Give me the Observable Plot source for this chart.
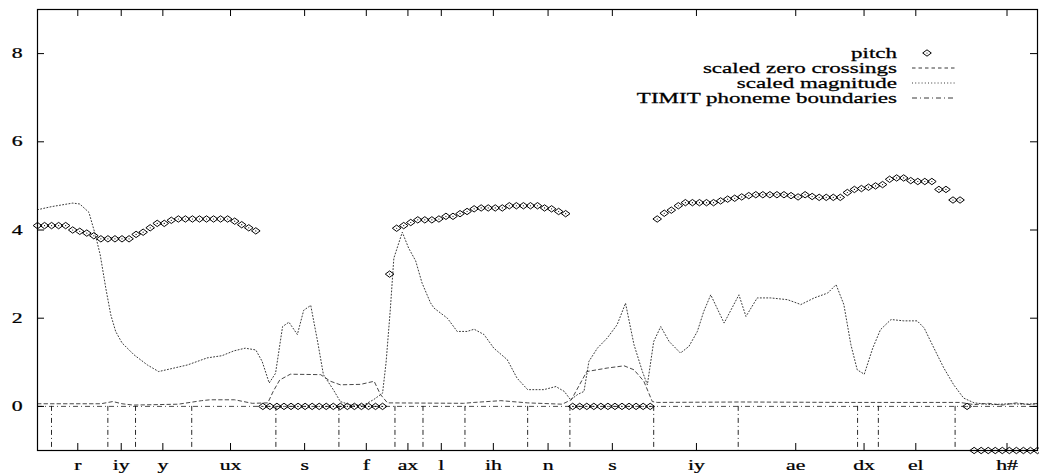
<!DOCTYPE html>
<html><head><meta charset="utf-8">
<script src="https://cdn.jsdelivr.net/npm/d3@7"></script>
<script src="https://cdn.jsdelivr.net/npm/@observablehq/plot@0.6"></script>
<style>
html,body{margin:0;padding:0;background:#fff;}
#chart{width:1039px;height:475px;}
#chart svg text{font-family:"Liberation Serif","DejaVu Serif",serif !important;}
</style></head><body><div id="chart"></div>
<script>
// pitch value per analysis frame (frames 0..142)
const pitch = [
  4.1,4.1,4.1,4.1,4.1,4.0,3.97,3.93,3.87,3.8,3.8,3.8,3.8,3.8,3.9,3.95,4.05,4.15,4.15,4.22,
  4.25,4.25,4.25,4.25,4.25,4.25,4.25,4.25,4.2,4.12,4.05,3.98,
  0,0,0,0,0,0,0,0,0,0,0,0,0,0,0,0,0,0,
  3.0,
  4.04,4.10,4.17,4.23,4.23,4.23,4.25,4.31,4.31,4.37,4.42,4.48,4.5,4.5,4.5,4.5,4.55,4.55,4.55,4.55,4.55,4.5,4.48,4.42,4.37,
  0,0,0,0,0,0,0,0,0,0,0,0,
  4.25,4.38,4.45,4.55,4.62,4.62,4.62,4.62,4.62,4.66,4.7,4.72,4.75,4.78,4.8,4.8,4.8,4.8,4.8,4.78,
  4.75,4.8,4.76,4.74,4.74,4.74,4.74,4.85,4.92,4.94,4.97,5.0,5.03,5.15,5.18,5.18,5.12,5.1,5.1,5.1,
  4.92,4.92,4.68,4.68,
  0,
  -1,-1,-1,-1,-1,-1,-1,-1,-1,-1
];

// scaled zero crossings (frame, value)
const zcFrames = [0,9,10.7,12,13.6,20,23.3,24.5,28,30.5,32.7,33.5,34.4,35.9,40.2,41.6,43,45.9,47.8,48.7,49.7,60.5,62,65.8,69.6,74.5,75.8,78,80.9,83.3,84.7,86.1,87.3,88,100,115,131,133,135,137,139,141,142];
const zcValues = [0.06,0.06,0.11,0.06,0.03,0.05,0.13,0.15,0.15,0.07,0.08,0.35,0.6,0.73,0.72,0.57,0.49,0.5,0.57,0.27,0.08,0.07,0.09,0.13,0.08,0.05,0.15,0.79,0.87,0.92,0.83,0.57,0.11,0.09,0.1,0.09,0.09,0.04,0.07,0.03,0.08,0.04,0.07];

// scaled magnitude (frame, value)
const magFrames = [0,2,5,6,7.3,8.2,8.9,9.7,10.4,11.1,12,13.7,15.6,17.2,19.4,21.3,24.1,26.2,27.9,29.5,31,31.9,32.9,33.8,34.8,35.7,36.9,37.8,38.8,39.8,40.6,42,43,44.5,46.3,47.7,49,49.5,50.1,50.6,51.8,52.7,53.7,54.6,55.8,56.3,58.2,59.6,61,62,63.4,64.8,66.7,68.1,69.6,71.9,73.6,74.8,75.7,76.7,77.6,78.3,79.5,80.9,82.3,83.5,84.7,85.9,86.6,87.5,88.5,89.7,91.3,92.5,93.7,94.6,95.6,97.5,99.6,100.6,102.2,104.1,106.5,108.4,110.3,112.2,113.4,114.5,115.5,116.4,117.4,118.6,119.7,121.2,123,124.9,125.9,127.3,128.7,130.1,131.5,133,135.4,138,140,142];
const magValues = [4.46,4.53,4.61,4.59,4.4,3.9,3.44,2.68,2.08,1.7,1.44,1.17,0.94,0.79,0.87,0.94,1.1,1.15,1.26,1.32,1.28,1.02,0.53,0.75,1.81,1.91,1.63,2.18,2.29,1.45,0.72,0.38,0.11,0.03,0.03,0.15,0.3,1.0,2.2,3.36,3.95,3.59,3.3,2.8,2.35,2.23,2.0,1.7,1.7,1.75,1.63,1.32,1.06,0.64,0.38,0.38,0.45,0.34,0.15,0.27,0.34,1.02,1.32,1.55,1.85,2.34,1.4,0.79,0.49,1.47,1.81,1.47,1.21,1.36,1.7,2.15,2.53,1.89,2.53,2.04,2.46,2.46,2.42,2.31,2.46,2.57,2.76,2.31,1.4,0.83,0.73,1.32,1.74,1.97,1.94,1.94,1.78,1.32,0.87,0.49,0.19,0.08,0.04,0.06,0.05,0.06];

// TIMIT phoneme boundaries (frame)
const boundaries = [1.99,9.99,13.92,21.9,33.85,42.8,50.76,54.74,60.7,69.6,75.6,87.5,99.5,116.45,119.4,130.3];

// x tick positions (frame) and labels
const phonemeTicks = [5.72,11.89,17.8,27.41,37.93,46.69,52.6,57.34,64.73,72.5,81.63,93.57,107.67,117.37,124.72,137.67];
const phonemeLabels = ["r","iy","y","ux","s","f","ax","l","ih","n","s","iy","ae","dx","el","h#"];

const yTicks = [0,2,4,6,8];
const yTickLabels = ["0","2","4","6","8"];

const legendLabels = ["pitch","scaled zero crossings","scaled magnitude","TIMIT phoneme boundaries"];

// ---- layout ----
const W = 1039, H = 475, mL = 37, mR = 2, mT = 9, mB = 25;
const fw = W - mL - mR, fh = H - mT - mB;
const TICK = 7;
const FONT = "'Liberation Serif','DejaVu Serif',serif";
const SX = 1.5;      // tick label horizontal stretch
const SXL = 1.62;    // legend horizontal stretch
const dashZC = "3.5,3", dashMag = "1,2.2", dashB = "5,3,1,3";

const pitchData = pitch.map((v, i) => ({frame: i, value: v}));
const zc = zcFrames.map((f, i) => ({frame: f, value: zcValues[i]}));
const mag = magFrames.map((f, i) => ({frame: f, value: magValues[i]}));

const diamond = {draw(ctx) { ctx.moveTo(-4.3, 0); ctx.lineTo(0, -3.2); ctx.lineTo(4.3, 0); ctx.lineTo(0, 3.2); ctx.closePath(); }};

const plot = Plot.plot({
  width: W, height: H,
  marginLeft: mL, marginRight: mR, marginTop: mT, marginBottom: mB,
  x: {domain: [0, 142], axis: null},
  y: {domain: [-1, 9], axis: null},
  style: {fontFamily: FONT, fontSize: "14.5px", background: "#fff", color: "#000"},
  marks: [
    Plot.ruleY([0], {stroke: "#222", strokeWidth: 0.8, strokeDasharray: dashB}),
    Plot.ruleX(boundaries, {x: d => d, y1: 0, y2: -1, stroke: "#111", strokeWidth: 0.9, strokeDasharray: dashB}),
    Plot.line(zc, {x: "frame", y: "value", stroke: "#333", strokeWidth: 0.9, strokeDasharray: dashZC}),
    Plot.line(mag, {x: "frame", y: "value", stroke: "#222", strokeWidth: 0.9, strokeDasharray: dashMag}),
    Plot.dot(pitchData, {x: "frame", y: "value", symbol: diamond, r: 4, stroke: "#000", strokeWidth: 1, fill: "none"}),
    Plot.dot(pitchData, {x: "frame", y: "value", r: 0.6, fill: "#000", stroke: null}),
    Plot.tickY(yTicks, {y: d => d, insetRight: fw - TICK, stroke: "#000"}),
    Plot.tickY(yTicks, {y: d => d, insetLeft: fw - TICK, stroke: "#000"}),
    Plot.tickX(phonemeTicks, {x: d => d, insetTop: fh - TICK, stroke: "#000"}),
    Plot.tickX(phonemeTicks, {x: d => d, insetBottom: fh - TICK, stroke: "#000"}),
    Plot.text(yTicks, {y: d => d, text: (d, i) => yTickLabels[i], frameAnchor: "left", dx: -15, textAnchor: "end", lineAnchor: "middle", fill: "#000"}),
    Plot.text(phonemeLabels, {x: (d, i) => phonemeTicks[i], text: d => d, frameAnchor: "bottom", dy: 15, lineAnchor: "middle", fill: "#000"}),
    Plot.frame({stroke: "#000", strokeWidth: 1.2})
  ]
});

// horizontally widen the serif text like the original rendering
d3.select(plot).selectAll("text").each(function() {
  const t = this.getAttribute("transform") || "";
  this.setAttribute("transform", t + ` scale(${SX},1)`);
  this.setAttribute("stroke", "#000");
  this.setAttribute("stroke-width", "0.25");
});

// legend (inside the plot, top right)
const svg = d3.select(plot);
const lg = svg.append("g").attr("font-family", FONT).attr("font-size", 14.2).attr("fill", "#000");
const right = W - mR;
legendLabels.forEach((lab, i) => {
  const y = mT + 44 + i * 15;
  lg.append("text")
    .attr("transform", `translate(${right - 140},${y}) scale(${SXL},1)`)
    .attr("text-anchor", "end").attr("dy", "0.32em")
    .attr("stroke", "#000").attr("stroke-width", 0.25).text(lab);
  if (i === 0) {
    lg.append("path").attr("d", "M-4.3,0L0,-3.2L4.3,0L0,3.2Z")
      .attr("transform", `translate(${right - 110},${y})`)
      .attr("fill", "none").attr("stroke", "#000").attr("stroke-width", 1);
    lg.append("circle").attr("cx", right - 110).attr("cy", y).attr("r", 0.6).attr("fill", "#000");
  } else {
    const dash = [null, dashZC, dashMag, dashB][i];
    lg.append("line").attr("x1", right - 125).attr("x2", right - 82).attr("y1", y).attr("y2", y)
      .attr("stroke", "#222").attr("stroke-width", 0.9).attr("stroke-dasharray", dash);
  }
});

document.getElementById("chart").appendChild(plot);
</script>
</body></html>
